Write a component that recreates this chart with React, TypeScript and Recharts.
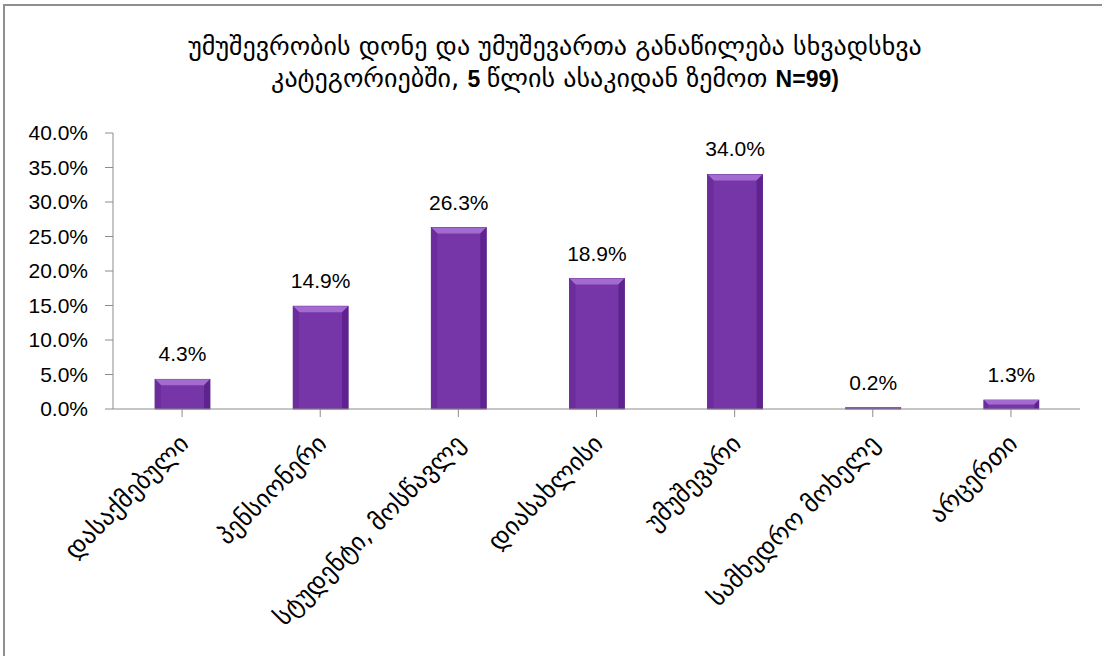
import React from 'react';
import { BarChart, Bar, XAxis, YAxis, LabelList } from 'recharts';

const categories = [
  'დასაქმებული',
  'პენსიონერი',
  'სტუდენტი, მოსწავლე',
  'დიასახლისი',
  'უმუშევარი',
  'სამხედრო მოხელე',
  'არცერთი',
];
const shares = [0.043, 0.149, 0.263, 0.189, 0.34, 0.002, 0.013];
const yTicks = [0, 0.05, 0.1, 0.15, 0.2, 0.25, 0.3, 0.35, 0.4];
const titleLine1 = 'უმუშევრობის დონე და უმუშევართა განაწილება სხვადსხვა';
const titleLine2a = 'კატეგორიებში, ';
const titleLine2b = ' 5 ';
const titleLine2c = 'წლის ასაკიდან ზემოთ ';
const titleLine2d = 'N=99)';

const data = categories.map((c, i) => ({ name: c, value: shares[i] }));

const GEO = '"DejaVu Sans", sans-serif';
const NUM = '"Liberation Sans", Arial, sans-serif';

const pct = (v: number) => (v * 100).toFixed(1) + '%';

const BevelBar = (props: any) => {
  const { x, y, width, height } = props;
  if (!height || height <= 0) return null;
  const b = Math.min(6, height / 2, width / 4);
  return (
    <g>
      <rect x={x} y={y} width={width} height={height} fill="#7636a8" stroke="#5e2488" strokeWidth={0.8} />
      <polygon points={`${x},${y} ${x + width},${y} ${x + width - b},${y + b} ${x + b},${y + b}`} fill="#a36ad0" />
      <polygon points={`${x},${y} ${x + b},${y + b} ${x + b},${y + height} ${x},${y + height}`} fill="#6c2c9c" />
      <polygon points={`${x + width},${y} ${x + width - b},${y + b} ${x + width - b},${y + height} ${x + width},${y + height}`} fill="#5f2390" />
    </g>
  );
};

const XTick = (props: any) => {
  const { x, y, payload } = props;
  return (
    <g transform={`translate(${x + 8},${y + 26})`}>
      <text transform="rotate(-45)" textAnchor="end" fontFamily={GEO} fontSize={25} fill="#000">
        {payload.value}
      </text>
    </g>
  );
};

export default function App() {
  return (
    <div style={{ position: 'absolute', left: 0, top: 0, width: 1102, height: 656, background: '#fff', overflow: 'hidden' }}>
      <div
        style={{
          position: 'absolute',
          left: 3,
          top: 4,
          width: 1110,
          height: 660,
          borderTop: '2px solid #8f8f8f',
          borderLeft: '2px solid #8f8f8f',
          boxSizing: 'border-box',
        }}
      />
      <div
        style={{
          position: 'absolute',
          left: 0,
          top: 30,
          width: 1110,
          textAlign: 'center',
          fontFamily: GEO,
          fontSize: 26,
          lineHeight: '32px',
          color: '#000',
        }}
      >
        <div>{titleLine1}</div>
        <div>
          {titleLine2a}
          <b style={{ fontFamily: NUM, fontSize: 23 }}>{titleLine2b}</b>
          {titleLine2c}
          <b style={{ fontFamily: NUM, fontSize: 23 }}>{titleLine2d}</b>
        </div>
      </div>
      <div style={{ position: 'absolute', left: 0, top: 0 }}>
        <BarChart
          width={1094}
          height={656}
          data={data}
          margin={{ top: 133, right: 14, bottom: 0, left: 0 }}
        >
          <XAxis
            dataKey="name"
            interval={0}
            tick={<XTick />}
            tickLine={{ stroke: '#8c8c8c' }}
            axisLine={{ stroke: '#8c8c8c' }}
            height={247}
            tickSize={8}
          />
          <YAxis
            domain={[0, 0.4]}
            ticks={yTicks}
            tickFormatter={pct}
            width={113}
            tickSize={8}
            tickMargin={17}
            tickLine={{ stroke: '#8c8c8c' }}
            axisLine={{ stroke: '#8c8c8c' }}
            tick={{ fontFamily: NUM, fontSize: 21, fill: '#000' }}
          />
          <Bar dataKey="value" shape={<BevelBar />} isAnimationActive={false} barSize={55}>
            <LabelList
              dataKey="value"
              position="top"
              offset={18}
              formatter={(v: any) => pct(Number(v))}
              style={{ fontFamily: NUM, fontSize: 21, fill: '#000' }}
            />
          </Bar>
        </BarChart>
      </div>
    </div>
  );
}
